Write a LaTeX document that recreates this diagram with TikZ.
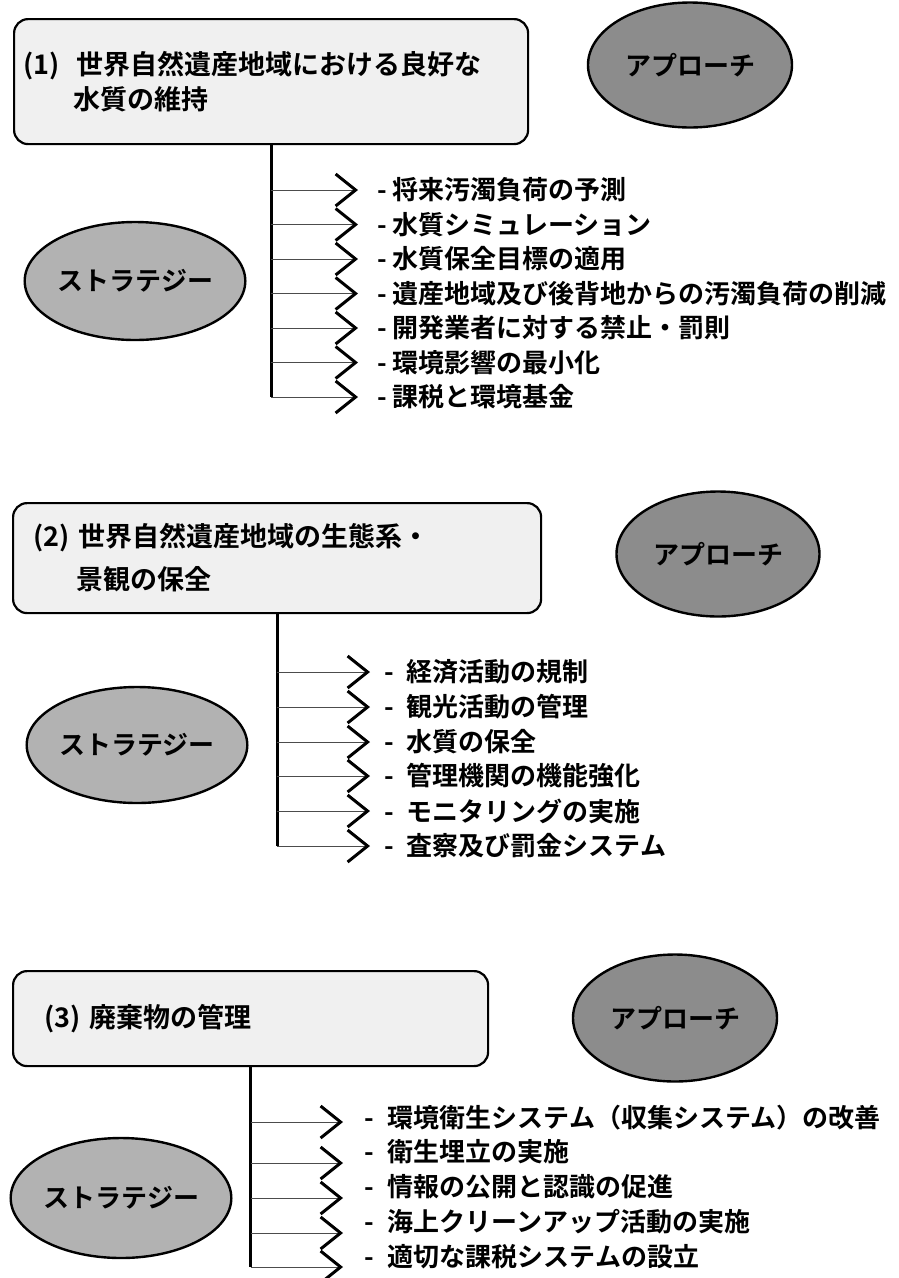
\documentclass[tikz,border=0pt]{standalone}
\usepackage{fontspec}
\setmainfont{Noto Sans CJK JP}[BoldFont={Noto Sans CJK JP Bold}]
\usetikzlibrary{shapes.geometric,arrows.meta}
\begin{document}
\begin{tikzpicture}[x=1pt,y=-1pt,
  titlebox/.style={draw=black, line width=2.2pt, rounded corners=14pt, fill=black!6,
    align=left, inner ysep=0pt, anchor=north west},
  approach/.style={ellipse, draw=black, line width=2.4pt, fill=black!45, inner sep=0pt,
    font=\fontsize{26}{30}\selectfont\bfseries},
  strategy/.style={ellipse, draw=black, line width=2.4pt, fill=black!30, inner sep=0pt,
    font=\fontsize{26}{30}\selectfont\bfseries},
  itemtext/.style={anchor=west, inner sep=0pt, font=\fontsize{26}{30}\selectfont\bfseries},
  stem/.style={draw=black, line width=2.8pt},
  branch/.style={draw=black!70, line width=1pt,
    -{Straight Barb[length=20pt,width=32pt,line width=3pt,color=black]}},
]
\fill[white] (0,0) rectangle (899,1278);
\useasboundingbox (0,0) rectangle (899,1278);

% ---------- Section 1 ----------
\node[titlebox, text width=496pt, inner xsep=9pt, minimum height=125pt,
  font=\fontsize{27}{35}\selectfont\bfseries] (b1) at (13,18)
  {\makebox[53pt][l]{(1)}世界自然遺産地域における良好な\\\hspace*{50pt}水質の維持};
\node[approach, minimum width=204pt, minimum height=125pt] (a1) at (690,65) {アプローチ};
\node[strategy, minimum width=206pt, minimum height=118pt] (s1) at (135,281) {ストラテジー};

\node[itemtext] (i11) at (377,190)   {-\hspace{6pt}将来汚濁負荷の予測};
\node[itemtext] (i12) at (377,224.5) {-\hspace{6pt}水質シミュレーション};
\node[itemtext] (i13) at (377,259)   {-\hspace{6pt}水質保全目標の適用};
\node[itemtext] (i14) at (377,293.5) {-\hspace{6pt}遺産地域及び後背地からの汚濁負荷の削減};
\node[itemtext] (i15) at (377,328)   {-\hspace{6pt}開発業者に対する禁止・罰則};
\node[itemtext] (i16) at (377,362.5) {-\hspace{6pt}環境影響の最小化};
\node[itemtext] (i17) at (377,397)   {-\hspace{6pt}課税と環境基金};

\draw[stem] (b1.south) -- (b1.south |- i17.west);
\foreach \k in {11,12,13,14,15,16,17}
  \draw[branch, shorten >=19pt] (b1.south |- i\k.west) -- (i\k.west);

% ---------- Section 2 ----------
\node[titlebox, text width=488pt, inner xsep=20pt, minimum height=110pt,
  font=\fontsize{27}{43}\selectfont\bfseries] (b2) at (12,502)
  {\makebox[45pt][l]{(2)}世界自然遺産地域の生態系・\\\hspace*{43pt}景観の保全};
\node[approach, minimum width=203pt, minimum height=125pt] (a2) at (718,554) {アプローチ};
\node[strategy, minimum width=207pt, minimum height=116pt] (s2) at (137,745) {ストラテジー};

\node[itemtext] (i21) at (384,672)   {-\hspace{13pt}経済活動の規制};
\node[itemtext] (i22) at (384,707)   {-\hspace{13pt}観光活動の管理};
\node[itemtext] (i23) at (384,742)   {-\hspace{13pt}水質の保全};
\node[itemtext] (i24) at (384,776)   {-\hspace{13pt}管理機関の機能強化};
\node[itemtext] (i25) at (384,811)   {-\hspace{13pt}モニタリングの実施};
\node[itemtext] (i26) at (384,846)   {-\hspace{13pt}査察及び罰金システム};

\draw[stem] (b2.south) -- (b2.south |- i26.west);
\foreach \k in {21,22,23,24,25,26}
  \draw[branch, shorten >=14pt] (b2.south |- i\k.west) -- (i\k.west);

% ---------- Section 3 ----------
\node[titlebox, text width=413pt, inner xsep=31pt, minimum height=95pt,
  font=\fontsize{27}{35}\selectfont\bfseries] (b3) at (12,970)
  {\makebox[45pt][l]{(3)}廃棄物の管理};
\node[approach, minimum width=204pt, minimum height=127pt] (a3) at (675,1018) {アプローチ};
\node[strategy, minimum width=212pt, minimum height=120pt] (s3) at (121,1198) {ストラテジー};

\node[itemtext] (i31) at (364,1118) {-\hspace{14pt}環境衛生システム（収集システム）の改善};
\node[itemtext] (i32) at (364,1152) {-\hspace{14pt}衛生埋立の実施};
\node[itemtext] (i33) at (364,1187) {-\hspace{14pt}情報の公開と認識の促進};
\node[itemtext] (i34) at (364,1222) {-\hspace{14pt}海上クリーンアップ活動の実施};
\node[itemtext] (i35) at (364,1257) {-\hspace{14pt}適切な課税システムの設立};

\coordinate (t31) at (343,1122);
\coordinate (t32) at (343,1163);
\coordinate (t33) at (343,1198);
\coordinate (t34) at (343,1233);
\coordinate (t35) at (343,1267);

\draw[stem] (b3.south) -- (b3.south |- t35);
\foreach \k in {31,32,33,34,35}
  \draw[branch] (b3.south |- t\k) -- (t\k);
\end{tikzpicture}
\end{document}
